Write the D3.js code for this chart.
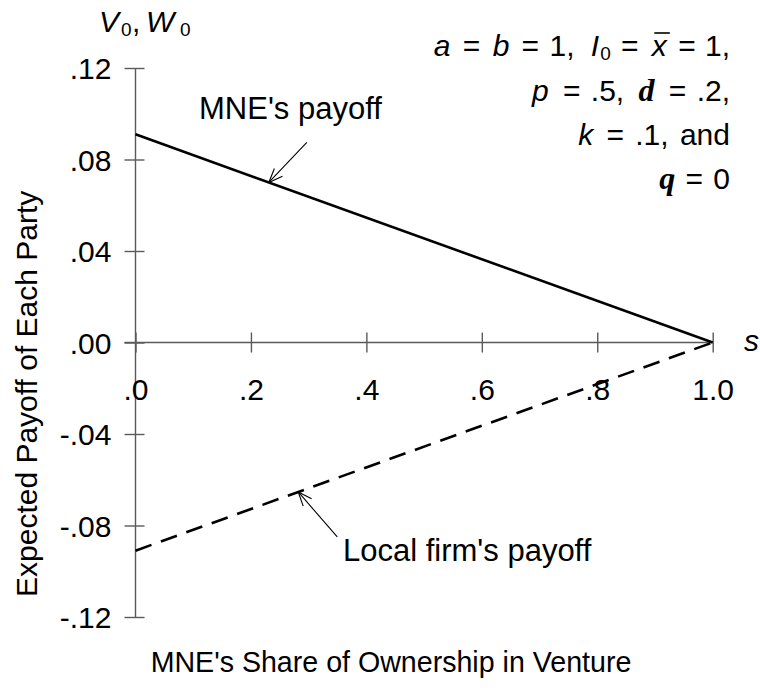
<!DOCTYPE html>
<html>
<head>
<meta charset="utf-8">
<script src="https://cdn.jsdelivr.net/npm/d3@7"></script>
<style>
  html, body { margin: 0; padding: 0; background: #fff; }
  svg { display: block; }
  text { font-family: "Liberation Sans", Arial, Helvetica, sans-serif; fill: #000; }
</style>
</head>
<body>
<svg id="chart" width="760" height="690"></svg>
<script>
// Ownership share of the MNE (horizontal axis)
const shares = [0, 1.0];
// Expected payoff of each party at those shares
const mnePayoff = [0.091, 0];
const localPayoff = [-0.091, 0];

const xTickValues = [0, 0.2, 0.4, 0.6, 0.8, 1.0];
const xTickLabels = [".0", ".2", ".4", ".6", ".8", "1.0"];
const yTickValues = [0.12, 0.08, 0.04, 0, -0.04, -0.08, -0.12];
const yTickLabels = [".12", ".08", ".04", ".00", "-.04", "-.08", "-.12"];

// Where the labelling arrows touch each line (share s)
const mneArrowAt = 0.231;
const localArrowAt = 0.282;

const svg = d3.select("#chart");
const FS = 30;
const SUB = "19px";

const x = d3.scaleLinear().domain([0, 1]).range([135.5, 712.7]);
const y = d3.scaleLinear().domain([-0.12, 0.12]).range([617, 68]);

const axisColor = "#5a5a5a";

// Vertical axis with ticks crossing the axis line
const yAxis = svg.append("g")
  .attr("transform", `translate(${x(0)},0)`)
  .call(d3.axisLeft(y).tickValues(yTickValues)
        .tickFormat((d, i) => yTickLabels[i]).tickSize(11));
yAxis.select(".domain").remove();
yAxis.selectAll(".tick line").attr("x1", 9).attr("stroke", axisColor).attr("stroke-width", 1.4);
yAxis.selectAll(".tick text")
  .attr("x", -24).attr("dy", "0.36em")
  .style("font-size", FS + "px").style("font-family", "Liberation Sans, Arial, sans-serif");
yAxis.append("line")
  .attr("x1", 0).attr("x2", 0).attr("y1", y(0.12)).attr("y2", y(-0.12))
  .attr("stroke", axisColor).attr("stroke-width", 1.4);

// Horizontal axis through zero
const xAxis = svg.append("g")
  .attr("transform", `translate(0,${y(0)})`)
  .call(d3.axisBottom(x).tickValues(xTickValues)
        .tickFormat((d, i) => xTickLabels[i]).tickSize(10));
xAxis.select(".domain").remove();
xAxis.selectAll(".tick line").attr("y1", -10).attr("stroke", axisColor).attr("stroke-width", 1.4);
xAxis.selectAll(".tick text")
  .attr("y", 57).attr("dy", 0)
  .style("font-size", FS + "px").style("font-family", "Liberation Sans, Arial, sans-serif");
xAxis.append("line")
  .attr("x1", x(0) - 11).attr("x2", x(1)).attr("y1", 0).attr("y2", 0)
  .attr("stroke", axisColor).attr("stroke-width", 1.4);

// Payoff lines
const line = d3.line().x(d => x(d[0])).y(d => y(d[1]));
const mnePts = d3.zip(shares, mnePayoff);
const localPts = d3.zip(shares, localPayoff);

svg.append("path").datum(mnePts)
  .attr("d", line).attr("fill", "none").attr("stroke", "#000").attr("stroke-width", 2.6);
svg.append("path").datum(localPts)
  .attr("d", line).attr("fill", "none").attr("stroke", "#000").attr("stroke-width", 2.6)
  .attr("stroke-dasharray", "17,10");

// Open-headed arrows pointing at the lines
function arrow(tipX, tipY, tailX, tailY) {
  const g = svg.append("g").attr("stroke", "#000").attr("stroke-width", 1.1).attr("fill", "none");
  g.append("line").attr("x1", tailX).attr("y1", tailY).attr("x2", tipX).attr("y2", tipY);
  const ang = Math.atan2(tailY - tipY, tailX - tipX);
  const len = 15, spread = 0.38;
  [ang - spread, ang + spread].forEach(a => {
    g.append("line").attr("x1", tipX).attr("y1", tipY)
      .attr("x2", tipX + len * Math.cos(a)).attr("y2", tipY + len * Math.sin(a));
  });
}
const interp = (arr, s) => arr[0] + (arr[1] - arr[0]) * (s - shares[0]) / (shares[1] - shares[0]);
const mTipX = x(mneArrowAt), mTipY = y(interp(mnePayoff, mneArrowAt));
arrow(mTipX, mTipY, mTipX + 38, mTipY - 40);
const lTipX = x(localArrowAt), lTipY = y(interp(localPayoff, localArrowAt));
arrow(lTipX, lTipY, lTipX + 39, lTipY + 45);

// Line labels
svg.append("text").attr("x", 199).attr("y", 119).style("font-size", "31px").text("MNE's payoff");
svg.append("text").attr("x", 343).attr("y", 561).style("font-size", "31px").text("Local firm's payoff");

// Axis titles
svg.append("text").attr("x", 391).attr("y", 672).attr("text-anchor", "middle")
  .style("font-size", "28.6px").text("MNE's Share of Ownership in Venture");
svg.append("text").attr("transform", "translate(37,597) rotate(-90)")
  .attr("text-anchor", "start").style("font-size", FS + "px").text("Expected Payoff of Each Party");

svg.append("text").attr("x", 744).attr("y", 351).style("font-size", FS + "px")
  .style("font-style", "italic").text("s");

// Vertical axis variable names
const vw = svg.append("text").attr("y", 32).style("font-size", FS + "px");
vw.append("tspan").attr("x", 99).style("font-style", "italic").text("V");
vw.append("tspan").attr("x", 121).attr("dy", 4).style("font-size", SUB).text("0");
vw.append("tspan").attr("x", 132).attr("dy", -4).text(",");
vw.append("tspan").attr("x", 146).style("font-style", "italic").text("W");
vw.append("tspan").attr("x", 180).attr("dy", 4).style("font-size", SUB).text("0");

// Parameter block: right-aligned lines built from pieces [text, gap before, style]
const RX = 730;
function paramLine(yPos, pieces) {
  const t = svg.append("text").attr("x", RX).attr("y", yPos)
    .attr("text-anchor", "end").style("font-size", FS + "px");
  let lowered = false;
  pieces.forEach(([str, gap, kind]) => {
    const s = t.append("tspan").attr("dx", gap).text(str);
    if (kind === "sub") { s.style("font-size", SUB).attr("dy", 4); lowered = true; }
    else if (lowered) { s.attr("dy", -4); lowered = false; }
    if (kind === "i") s.style("font-style", "italic");
    if (kind === "g") s.style("font-family", "Liberation Serif, Times New Roman, serif")
      .style("font-weight", "bold").style("font-style", "italic").style("font-size", "32px");
  });
  return t;
}
const line1 = paramLine(56, [
  ["a", 0, "i"], ["=", 12.3], ["b", 12.3, "i"], ["=", 12.3], ["1,", 10.3],
  ["I", 16.3, "i"], ["0", 1, "sub"], ["=", 10.3], ["x", 13.3, "i"], ["=", 11.3], ["1,", 9.3]
]);
paramLine(101, [
  ["p", 0, "i"], ["=", 14.3], [".5,", 10.3], ["d", 14.3, "g"], ["=", 14.3], [".2,", 10.3]
]);
paramLine(145, [
  ["k", 0, "i"], ["=", 13.3], [".1,", 11.3], ["and", 11.3]
]);
paramLine(189, [
  ["q", 0, "g"], ["=", 10.3], ["0", 10.3]
]);

// Bar over the x in the first parameter line
const n1 = line1.node();
const xi = n1.textContent.indexOf("x");
const a0 = n1.getStartPositionOfChar(xi), a1 = n1.getEndPositionOfChar(xi);
svg.append("line")
  .attr("x1", a0.x + 2.5).attr("x2", a1.x + 3).attr("y1", 33).attr("y2", 33)
  .attr("stroke", "#000").attr("stroke-width", 1.6);
</script>
</body>
</html>
